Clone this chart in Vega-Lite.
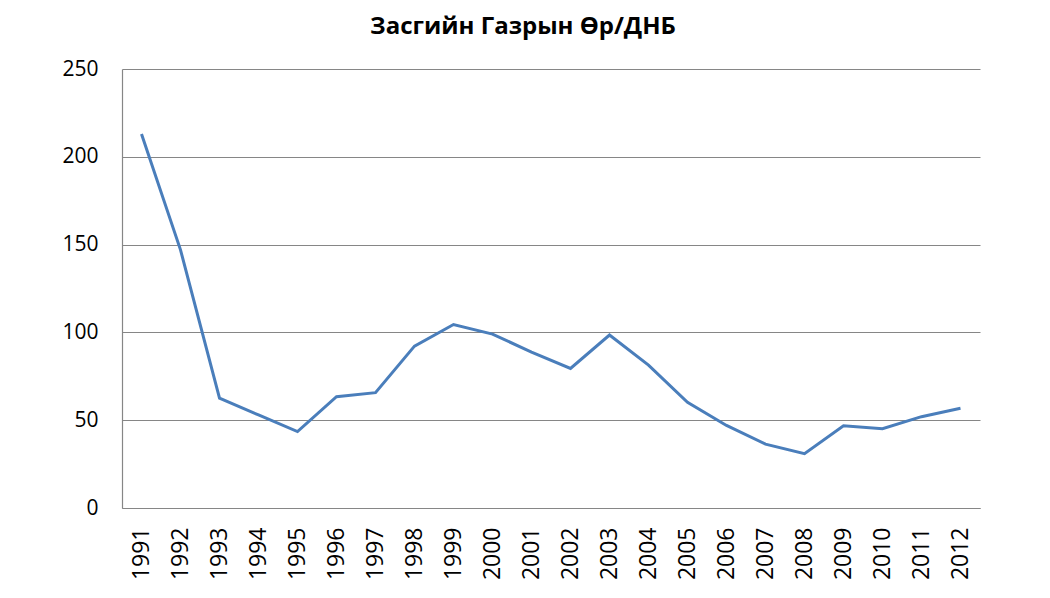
{
  "$schema": "https://vega.github.io/schema/vega-lite/v6.json",
  "width": 858,
  "height": 439,
  "autosize": "none",
  "padding": {"left": 122, "top": 69, "right": 70, "bottom": 90},
  "background": "white",
  "title": {
    "text": "Засгийн Газрын Өр/ДНБ",
    "font": "Open Sans",
    "fontSize": 24,
    "fontWeight": "bold",
    "color": "#000000",
    "anchor": "middle",
    "dx": -28,
    "offset": 19
  },
  "data": {
    "values": [
      {"year": "1991", "value": 213},
      {"year": "1992", "value": 147},
      {"year": "1993", "value": 62.5},
      {"year": "1994", "value": 53},
      {"year": "1995", "value": 43.5},
      {"year": "1996", "value": 63.4},
      {"year": "1997", "value": 65.7},
      {"year": "1998", "value": 92.2},
      {"year": "1999", "value": 104.5},
      {"year": "2000", "value": 99},
      {"year": "2001", "value": 88.8},
      {"year": "2002", "value": 79.5},
      {"year": "2003", "value": 98.5},
      {"year": "2004", "value": 81.4},
      {"year": "2005", "value": 60.2},
      {"year": "2006", "value": 47},
      {"year": "2007", "value": 36.4},
      {"year": "2008", "value": 30.9},
      {"year": "2009", "value": 46.8},
      {"year": "2010", "value": 45.2},
      {"year": "2011", "value": 52},
      {"year": "2012", "value": 56.8}
    ]
  },
  "config": {
    "view": {"stroke": null}
  },
  "mark": {"type": "line", "color": "#4a7ebb", "strokeWidth": 3},
  "encoding": {
    "x": {
      "field": "year",
      "type": "ordinal",
      "scale": {"type": "point", "padding": 0.5},
      "axis": {
        "title": null,
        "labelAngle": -90,
        "labelAlign": "right",
        "labelBaseline": "middle",
        "labelFont": "Open Sans",
        "labelFontSize": 23,
        "labelColor": "#000000",
        "labelPadding": 19,
        "ticks": false,
        "domainColor": "#868686",
        "domainWidth": 1.2,
        "grid": false
      }
    },
    "y": {
      "field": "value",
      "type": "quantitative",
      "scale": {"domain": [0, 250], "nice": false},
      "axis": {
        "title": null,
        "values": [0, 50, 100, 150, 200, 250],
        "labelFont": "Open Sans",
        "labelFontSize": 21,
        "labelColor": "#000000",
        "labelPadding": 24,
        "ticks": false,
        "domainColor": "#868686",
        "domainWidth": 1.2,
        "grid": true,
        "gridColor": "#868686",
        "gridWidth": 1.2
      }
    }
  }
}
